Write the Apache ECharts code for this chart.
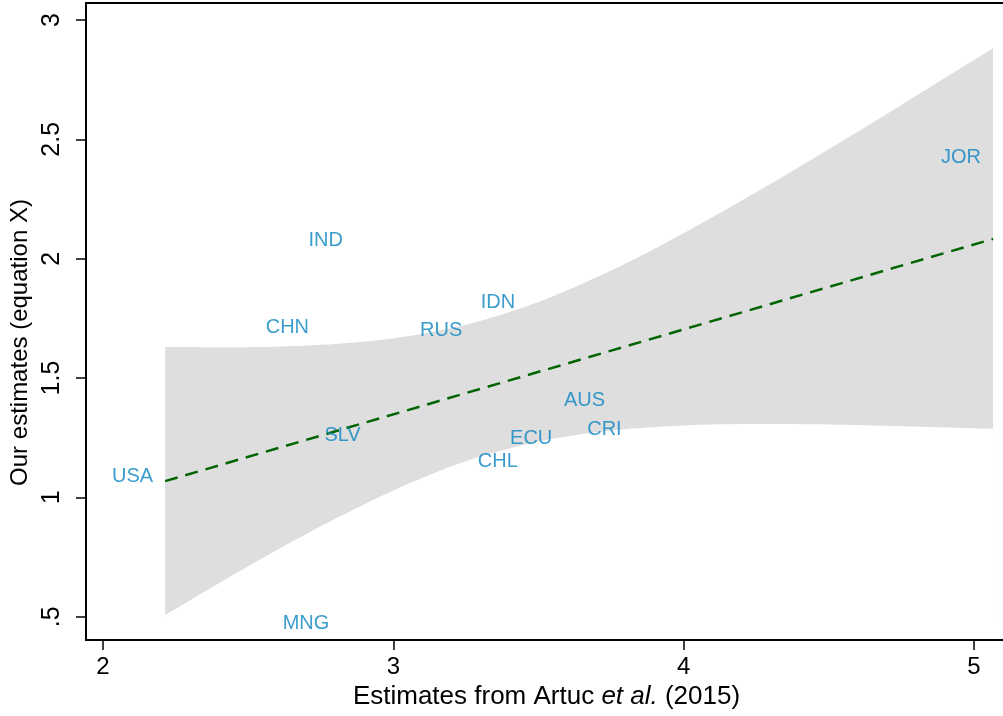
<!DOCTYPE html>
<html>
<head>
<meta charset="utf-8">
<script src="https://cdn.jsdelivr.net/npm/echarts@6/dist/echarts.min.js"></script>
<style>
html,body{margin:0;padding:0;background:#fff;}
#chart{width:1003px;height:716px;}
</style>
</head>
<body>
<div id="chart"></div>
<script>
// Country labels and their coordinates
const countries = ['USA','IND','CHN','SLV','RUS','IDN','AUS','CRI','ECU','CHL','MNG','JOR'];
const artucX    = [2.214, 2.868, 2.751, 2.929, 3.279, 3.461, 3.771, 3.828, 3.589, 3.470, 2.821, 5.066];
const ourY      = [1.086, 2.075, 1.713, 1.259, 1.698, 1.816, 1.405, 1.285, 1.248, 1.150, 0.473, 2.423];

// Linear fit line (endpoints)
const fitX = [2.214, 5.066];
const fitY = [1.068, 2.083];

// Confidence band edges
const bandX     = [2.214, 2.5, 2.75, 3.0, 3.25, 3.5, 3.75, 4.0, 4.25, 4.5, 4.75, 5.066];
const bandUpper = [1.630, 1.629, 1.639, 1.666, 1.723, 1.818, 1.950, 2.107, 2.278, 2.458, 2.644, 2.882];
const bandLower = [0.506, 0.711, 0.879, 1.029, 1.151, 1.234, 1.280, 1.301, 1.307, 1.305, 1.298, 1.287];

// Tick values
const xTicks = [2, 3, 4, 5];
const yTicks = [0.5, 1, 1.5, 2, 2.5, 3];
const yTickLabels = {0.5: '.5', 1: '1', 1.5: '1.5', 2: '2', 2.5: '2.5', 3: '3'};

const FONT = 'Liberation Sans, Arial, Helvetica, sans-serif';
const chart = echarts.init(document.getElementById('chart'), null, {renderer: 'canvas'});

const option = {
  animation: false,
  backgroundColor: '#ffffff',
  grid: {
    left: 86, top: 3, right: -4, bottom: 76,
    outerBoundsMode: 'none', containLabel: false,
    show: true, borderColor: '#000', borderWidth: 2, backgroundColor: 'transparent'
  },
  xAxis: {
    type: 'value',
    min: 1.9414, max: 5.1140,
    splitLine: {show: false},
    axisLine: {show: true, onZero: false, lineStyle: {color: '#000', width: 2}},
    axisTick: {show: true, length: 10, lineStyle: {color: '#000', width: 1.5}, customValues: xTicks},
    axisLabel: {color: '#000', fontSize: 24, fontFamily: FONT, margin: 15, customValues: xTicks},
    name: '{n|Estimates from Artuc }{i|et al.}{n| (2015)}',
    nameLocation: 'middle',
    nameGap: 42,
    nameTextStyle: {
      rich: {
        n: {fontSize: 26, fontFamily: FONT, color: '#000'},
        i: {fontSize: 26, fontFamily: FONT, color: '#000', fontStyle: 'italic'}
      }
    }
  },
  yAxis: {
    type: 'value',
    min: 0.4024, max: 3.0712,
    splitLine: {show: false},
    axisLine: {show: true, onZero: false, lineStyle: {color: '#000', width: 2}},
    axisTick: {show: true, length: 10, lineStyle: {color: '#000', width: 1.5}, customValues: yTicks},
    axisLabel: {
      color: '#000', fontSize: 25, fontFamily: FONT, margin: 21, rotate: 90,
      customValues: yTicks,
      formatter: v => yTickLabels[v] !== undefined ? yTickLabels[v] : String(v)
    },
    name: 'Our estimates (equation X)',
    nameLocation: 'middle',
    nameGap: 46,
    nameTextStyle: {fontSize: 24, fontFamily: FONT, color: '#000', padding: [0, 42, 0, 0]}
  },
  series: [
    {
      // upper edge of the confidence band, filled down to a base below the band
      type: 'line',
      z: 1,
      silent: true,
      symbol: 'none',
      smooth: 0.3,
      data: bandX.map((x, i) => [x, bandUpper[i]]),
      lineStyle: {opacity: 0, width: 0},
      areaStyle: {color: '#dedede', opacity: 1, origin: 0.47}
    },
    {
      // lower edge of the band: clears the area below it back to the background
      type: 'line',
      z: 1,
      silent: true,
      symbol: 'none',
      smooth: 0.3,
      data: bandX.map((x, i) => [x, bandLower[i]]),
      lineStyle: {opacity: 0, width: 0},
      areaStyle: {color: '#ffffff', opacity: 1, origin: 0.44}
    },
    {
      type: 'line',
      z: 2,
      silent: true,
      symbol: 'none',
      data: fitX.map((x, i) => [x, fitY[i]]),
      lineStyle: {color: '#006400', width: 2.5, type: [13, 8]}
    },
    {
      type: 'scatter',
      z: 3,
      silent: true,
      symbolSize: 0,
      data: countries.map((c, i) => ({name: c, value: [artucX[i], ourY[i]]})),
      label: {
        show: true,
        position: 'left',
        distance: 12,
        formatter: p => p.name,
        color: '#0a85c0',
        fontSize: 20,
        fontFamily: FONT
      }
    }
  ]
};
chart.setOption(option);
</script>
</body>
</html>
